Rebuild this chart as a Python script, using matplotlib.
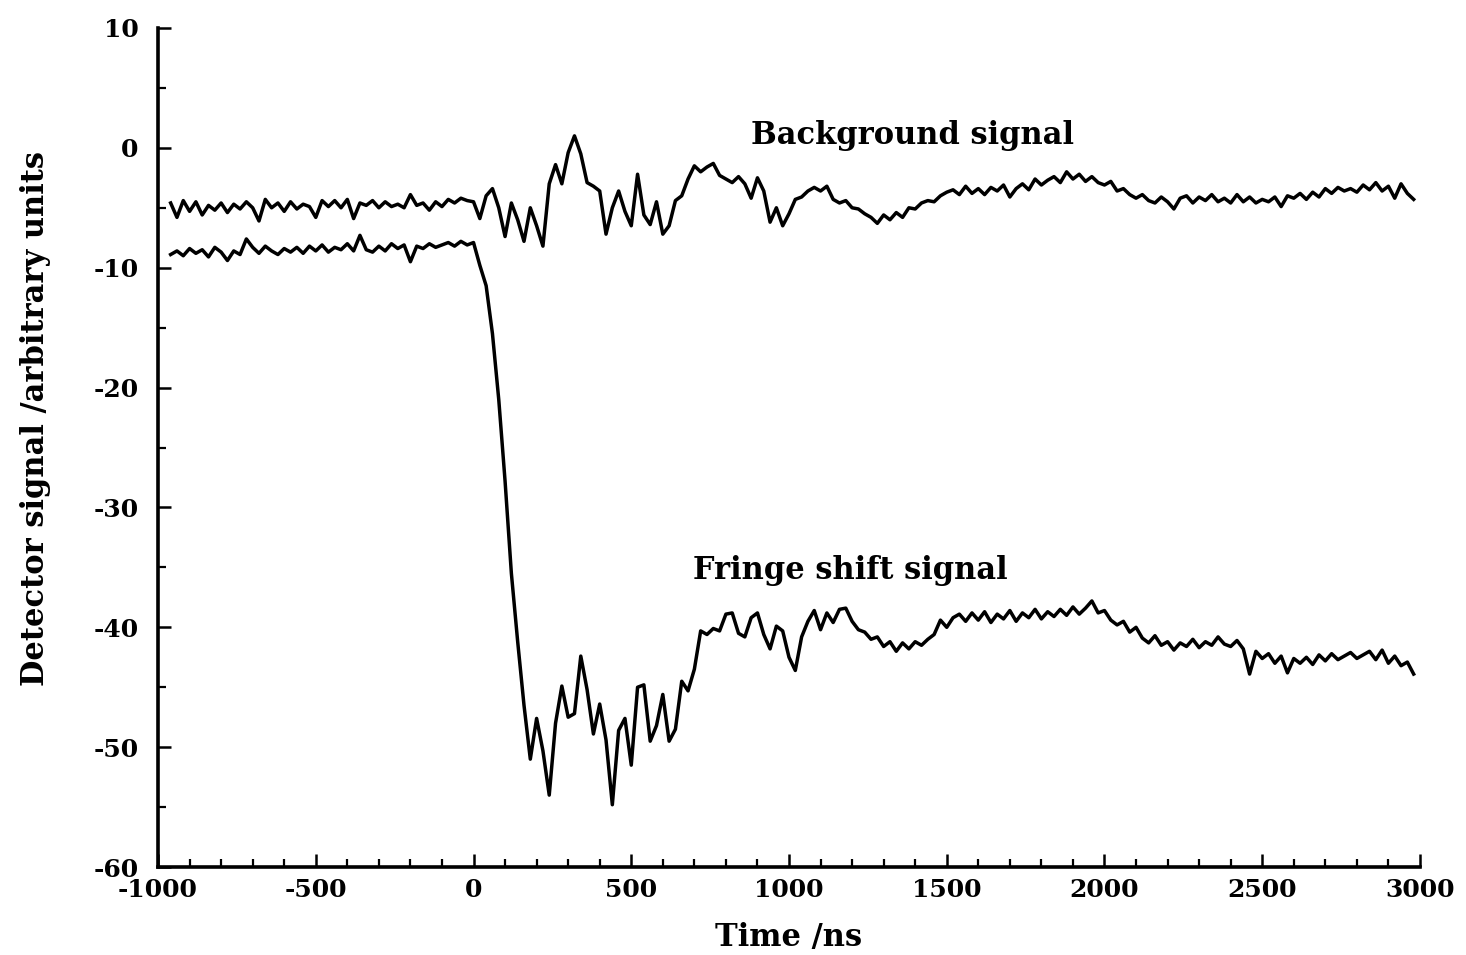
import numpy as np
import matplotlib
matplotlib.use("Agg")
import matplotlib.pyplot as plt
from matplotlib.ticker import MultipleLocator

plt.rcParams["axes.unicode_minus"] = False

time_ns = np.arange(-960, 2981, 20)

background = [
    -4.6, -5.8, -4.4, -5.3, -4.5, -5.6, -4.8, -5.2, -4.6, -5.4,
    -4.7, -5.1, -4.5, -5.0, -6.1, -4.3, -5.0, -4.6, -5.3, -4.5,
    -5.1, -4.7, -4.9, -5.8, -4.4, -4.9, -4.4, -5.0, -4.3, -5.9,
    -4.6, -4.8, -4.4, -5.0, -4.5, -4.9, -4.7, -5.0, -3.9, -4.8,
    -4.6, -5.2, -4.5, -4.9, -4.3, -4.6, -4.2, -4.4, -4.5, -5.9,
    -4.0, -3.4, -5.0, -7.4, -4.6, -6.0, -7.8, -5.0, -6.5, -8.2,
    -3.0, -1.4, -3.0, -0.4, 1.0, -0.5, -2.9, -3.2, -3.6, -7.2,
    -5.0, -3.6, -5.3, -6.5, -2.2, -5.6, -6.4, -4.5, -7.2, -6.5,
    -4.4, -4.0, -2.6, -1.5, -2.0, -1.6, -1.3, -2.3, -2.6, -2.9,
    -2.4, -3.0, -4.2, -2.5, -3.6, -6.2, -5.0, -6.5, -5.5, -4.3,
    -4.1, -3.6, -3.3, -3.6, -3.2, -4.3, -4.6, -4.4, -5.0, -5.1,
    -5.5, -5.8, -6.3, -5.6, -6.0, -5.4, -5.8, -5.0, -5.1, -4.6,
    -4.4, -4.5, -4.0, -3.7, -3.5, -3.9, -3.2, -3.8, -3.4, -3.9,
    -3.3, -3.6, -3.1, -4.1, -3.4, -3.0, -3.5, -2.6, -3.1, -2.7,
    -2.4, -2.9, -2.0, -2.6, -2.2, -2.8, -2.4, -2.9, -3.1, -2.8,
    -3.6, -3.4, -3.9, -4.2, -3.9, -4.4, -4.6, -4.1, -4.5, -5.1,
    -4.2, -4.0, -4.6, -4.1, -4.4, -3.9, -4.5, -4.2, -4.6, -3.9,
    -4.5, -4.1, -4.6, -4.3, -4.5, -4.1, -4.9, -4.0, -4.2, -3.8,
    -4.3, -3.7, -4.1, -3.4, -3.8, -3.3, -3.6, -3.4, -3.7, -3.1,
    -3.5, -2.9, -3.6, -3.2, -4.2, -3.0, -3.8, -4.3,
]

fringe = [
    -8.9, -8.6, -9.0, -8.4, -8.8, -8.5, -9.1, -8.3, -8.7, -9.4,
    -8.6, -8.9, -7.6, -8.3, -8.8, -8.2, -8.6, -8.9, -8.4, -8.7,
    -8.3, -8.8, -8.2, -8.6, -8.1, -8.7, -8.3, -8.5, -8.0, -8.6,
    -7.3, -8.5, -8.7, -8.2, -8.6, -8.0, -8.4, -8.1, -9.5, -8.2,
    -8.4, -8.0, -8.3, -8.1, -7.9, -8.2, -7.8, -8.1, -7.9, -9.8,
    -11.5, -15.5, -21.0, -27.8, -35.5, -41.2, -46.5, -51.0, -47.6, -50.3,
    -54.0, -48.0, -44.9, -47.5, -47.2, -42.4, -45.2, -48.9, -46.4, -49.4,
    -54.8, -48.6, -47.6, -51.5, -45.0, -44.8, -49.5, -48.2, -45.6, -49.5,
    -48.5, -44.5, -45.3, -43.5, -40.3, -40.6, -40.1, -40.3, -38.9, -38.8,
    -40.5, -40.8, -39.2, -38.8, -40.6, -41.8, -39.9, -40.3, -42.5, -43.6,
    -40.8, -39.5, -38.6, -40.2, -38.8, -39.6, -38.5, -38.4, -39.5, -40.2,
    -40.4, -41.0, -40.8, -41.6, -41.2, -42.0, -41.3, -41.8, -41.2, -41.5,
    -41.0, -40.6, -39.4, -40.0, -39.2, -38.9, -39.5, -38.8, -39.4, -38.7,
    -39.6, -38.9, -39.3, -38.6, -39.5, -38.8, -39.2, -38.5, -39.3, -38.7,
    -39.1, -38.5, -39.0, -38.3, -38.9, -38.4, -37.8, -38.8, -38.6, -39.4,
    -39.8, -39.5, -40.4, -40.0, -40.9, -41.3, -40.7, -41.5, -41.2, -41.9,
    -41.3, -41.6, -41.0, -41.7, -41.2, -41.5, -40.8, -41.4, -41.6, -41.1,
    -41.8, -43.9, -42.0, -42.6, -42.2, -43.0, -42.4, -43.8, -42.6, -43.0,
    -42.5, -43.1, -42.3, -42.8, -42.2, -42.7, -42.4, -42.1, -42.6, -42.3,
    -42.0, -42.7, -41.9, -43.0, -42.4, -43.2, -42.9, -43.9,
]

x_ticks = [-1000, -500, 0, 500, 1000, 1500, 2000, 2500, 3000]
y_ticks = [10, 0, -10, -20, -30, -40, -50, -60]
label_background = "Background signal"
label_fringe = "Fringe shift signal"
x_label = "Time /ns"
y_label = "Detector signal /arbitrary units"

# ---- figure ----
FONT = "DejaVu Serif"
fig = plt.figure(figsize=(14.66, 9.55), dpi=100)
ax = fig.add_axes([0.1078, 0.0921, 0.8608, 0.8786])

ax.plot(time_ns, background, color="black", lw=2.5, solid_joinstyle="round")
ax.plot(time_ns, fringe, color="black", lw=2.5, solid_joinstyle="round")

ax.set_xlim(-1000, 3000)
ax.set_ylim(-60, 10)
ax.set_xticks(x_ticks)
ax.set_yticks(y_ticks)
ax.xaxis.set_minor_locator(MultipleLocator(100))
ax.yaxis.set_minor_locator(MultipleLocator(5))

for s in ("top", "right"):
    ax.spines[s].set_visible(False)
for s in ("left", "bottom"):
    ax.spines[s].set_linewidth(2.6)

ax.tick_params(which="major", direction="in", length=9.5, width=1.8)
ax.tick_params(which="minor", direction="in", length=6, width=1.6)
ax.tick_params(axis="x", which="major", pad=8)
ax.tick_params(axis="y", which="major", pad=14)

for lab in ax.get_xticklabels() + ax.get_yticklabels():
    lab.set_fontfamily(FONT)
    lab.set_fontweight("bold")
    lab.set_fontsize(18)

ax.set_xlabel(x_label, fontfamily=FONT, fontweight="bold", fontsize=22, labelpad=14)
ax.set_ylabel(y_label, fontfamily=FONT, fontweight="bold", fontsize=22)
ax.yaxis.set_label_coords(-0.085, 0.535)

ax.text(1391, 0.3, label_background, fontfamily=FONT, fontweight="bold",
        fontsize=22, ha="center", va="baseline")
ax.text(1194, -36.0, label_fringe, fontfamily=FONT, fontweight="bold",
        fontsize=22, ha="center", va="baseline")

fig.savefig("out.png", dpi=100)
